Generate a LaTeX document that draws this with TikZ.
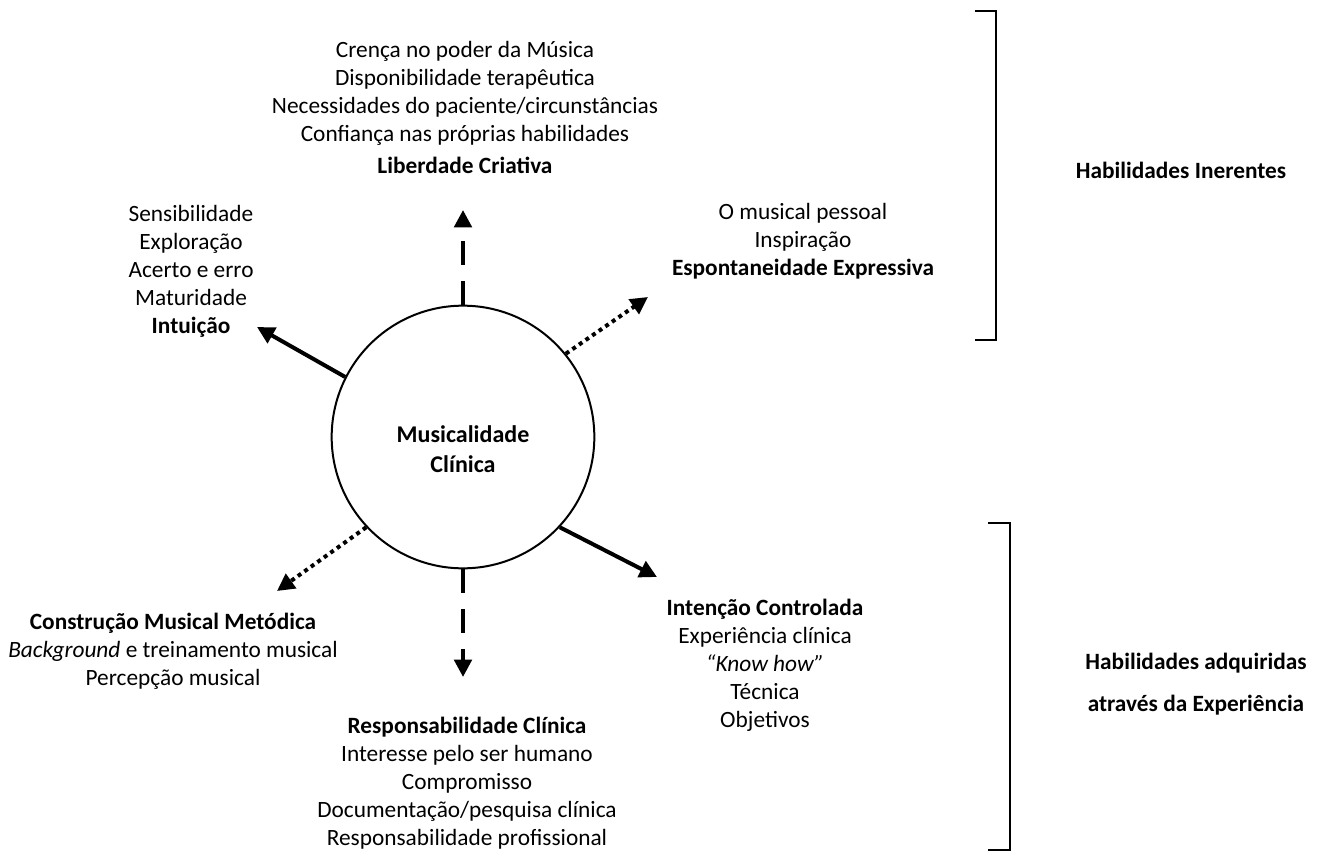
\documentclass[tikz,border=0pt]{standalone}
\usepackage{fontspec}
\setmainfont{Carlito}
\usetikzlibrary{arrows.meta}

\tikzset{
    blocktext/.style={align=center, inner sep=0pt, font=\fontsize{17.5}{21}\selectfont},
    sidetext/.style={align=center, inner sep=0pt, font=\fontsize{17.5}{31.5}\selectfont\bfseries},
    ray/.style={line width=3pt, -{Triangle[length=13pt,width=13pt]}},
    raydash/.style={ray, dash pattern=on 18pt off 12pt},
    raydot/.style={ray, dash pattern=on 3pt off 3pt},
    bracket/.style={line width=2pt},
}

\begin{document}
\begin{tikzpicture}[x=0.75pt, y=-0.75pt]
\useasboundingbox (0,0) rectangle (1317,852);

% central circle
\node[circle, draw, line width=1.5pt, minimum size=197pt, inner sep=0pt] (core) at (463,437) {};
\node[align=center, inner sep=0pt, font=\fontsize{18}{22.5}\selectfont\bfseries]
    (coretext) at (463,449) {Musicalidade\\Clínica};

% arrow tips
\coordinate (tipN)  at (463,210);
\coordinate (tipNW) at (257,327);
\coordinate (tipNE) at (648,297);
\coordinate (tipSW) at (277,591);
\coordinate (tipS)  at (463,677);
\coordinate (tipSE) at (657,577);

% arrows out of the circle
\draw[raydash] (core.90)  -- (tipN);
\draw[ray]     (core.153) -- (tipNW);
\draw[raydot]  (core.39)  -- (tipNE);
\draw[raydot]  (core.223) -- (tipSW);
\draw[raydash] (core.270) -- (tipS);
\draw[ray]     (core.317) -- (tipSE);

% text blocks
\node[blocktext, anchor=north] (liberdade) at (465,41)
    {Crença no poder da Música\\
     Disponibilidade terapêutica\\
     Necessidades do paciente/circunstâncias\\
     Confiança nas próprias habilidades\\[3pt]
     \textbf{Liberdade Criativa}};

\node[blocktext, anchor=north] (intuicao) at (191,205)
    {Sensibilidade\\
     Exploração\\
     Acerto e erro\\
     Maturidade\\
     \textbf{Intuição}};

\node[blocktext, anchor=north] (espontaneidade) at (803,203)
    {O musical pessoal\\
     Inspiração\\
     \textbf{Espontaneidade Expressiva}};

\node[blocktext, anchor=north] (construcao) at (173,613)
    {\textbf{Construção Musical Metódica}\\
     \textit{Background} e treinamento musical\\
     Percepção musical};

\node[blocktext, anchor=north] (intencao) at (765,599)
    {\textbf{Intenção Controlada}\\
     Experiência clínica\\
     \textit{“Know how”}\\
     Técnica\\
     Objetivos};

\node[blocktext, anchor=north] (responsabilidade) at (467,717)
    {\textbf{Responsabilidade Clínica}\\
     Interesse pelo ser humano\\
     Compromisso\\
     Documentação/pesquisa clínica\\
     Responsabilidade profissional};

% brackets
\draw[bracket] (975,11) -- (996,11) -- (996,340) -- (975,340);
\draw[bracket] (988,523) -- (1010,523) -- (1010,850) -- (988,850);

\node[sidetext] (inerentes) at (1181,170) {Habilidades Inerentes};
\node[sidetext] (adquiridas) at (1196,684) {Habilidades adquiridas\\através da Experiência};

\end{tikzpicture}
\end{document}
